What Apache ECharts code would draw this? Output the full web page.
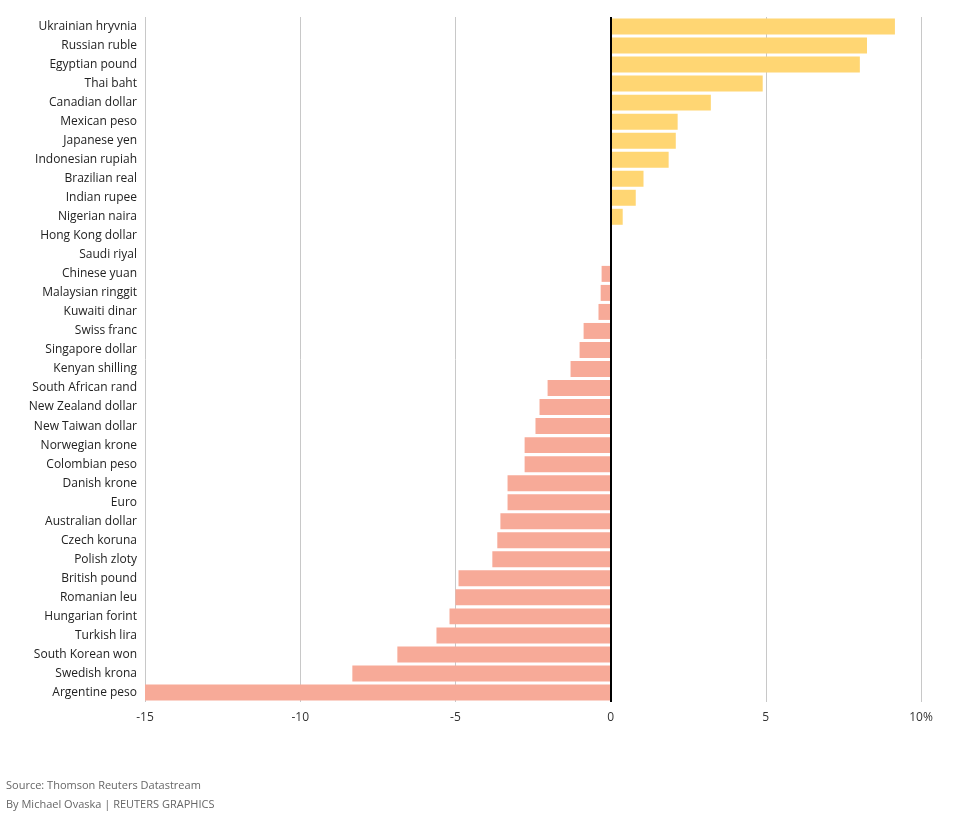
<!DOCTYPE html>
<html><head><meta charset="utf-8">
<script src="https://cdn.jsdelivr.net/npm/echarts@6/dist/echarts.min.js"></script>
<style>html,body{margin:0;padding:0;background:#fff}#c{width:957px;height:817px}</style>
</head><body><div id="c"></div>
<script>
const categories = ["Ukrainian hryvnia","Russian ruble","Egyptian pound","Thai baht","Canadian dollar","Mexican peso","Japanese yen","Indonesian rupiah","Brazilian real","Indian rupee","Nigerian naira","Hong Kong dollar","Saudi riyal","Chinese yuan","Malaysian ringgit","Kuwaiti dinar","Swiss franc","Singapore dollar","Kenyan shilling","South African rand","New Zealand dollar","New Taiwan dollar","Norwegian krone","Colombian peso","Danish krone","Euro","Australian dollar","Czech koruna","Polish zloty","British pound","Romanian leu","Hungarian forint","Turkish lira","South Korean won","Swedish krona","Argentine peso"];
const values = [9.16,8.26,8.03,4.9,3.23,2.16,2.1,1.87,1.06,0.81,0.39,0,0,-0.29,-0.32,-0.39,-0.87,-1.0,-1.29,-2.03,-2.29,-2.42,-2.77,-2.77,-3.32,-3.32,-3.55,-3.65,-3.81,-4.9,-5.0,-5.19,-5.61,-6.87,-8.32,-15.0];
const tickLabels = {"-15":"-15","-10":"-10","-5":"-5","0":"0","5":"5","10":"10%"};
const posColor = "#ffd673", negColor = "#f7aa98";
const FONT = "'Open Sans', 'Noto Sans', sans-serif";
const chart = echarts.init(document.getElementById('c'));
chart.setOption({
  animation:false,
  grid:{left:145,right:36,top:17,bottom:115,containLabel:false},
  xAxis:{type:'value',min:-15,max:10,interval:5,
    axisLine:{show:false},axisTick:{show:false},
    axisLabel:{fontFamily:FONT,fontSize:12,color:'#333',margin:10,formatter:v=>tickLabels[String(v)]},
    splitLine:{show:true,lineStyle:{color:'#c8c8c8',width:1}}},
  yAxis:{type:'category',inverse:true,data:categories,
    axisLine:{show:false},axisTick:{show:false},
    axisLabel:{fontFamily:FONT,fontSize:12,color:'#222',margin:8}},
  series:[{type:'bar',barCategoryGap:'16%',
    data:values.map(v=>({value:v,itemStyle:{color:v>=0?posColor:negColor}})),
    markLine:{silent:true,symbol:'none',label:{show:false},lineStyle:{color:'#000',width:2,type:'solid'},data:[{xAxis:0}]}
  }],
  graphic:[
    {type:'text',left:6,top:780,style:{text:'Source: Thomson Reuters Datastream',fontFamily:FONT,fontSize:11,fill:'#666'}},
    {type:'text',left:6,top:799,style:{text:'By Michael Ovaska | REUTERS GRAPHICS',fontFamily:FONT,fontSize:11,fill:'#666'}}
  ]
});
</script></body></html>
